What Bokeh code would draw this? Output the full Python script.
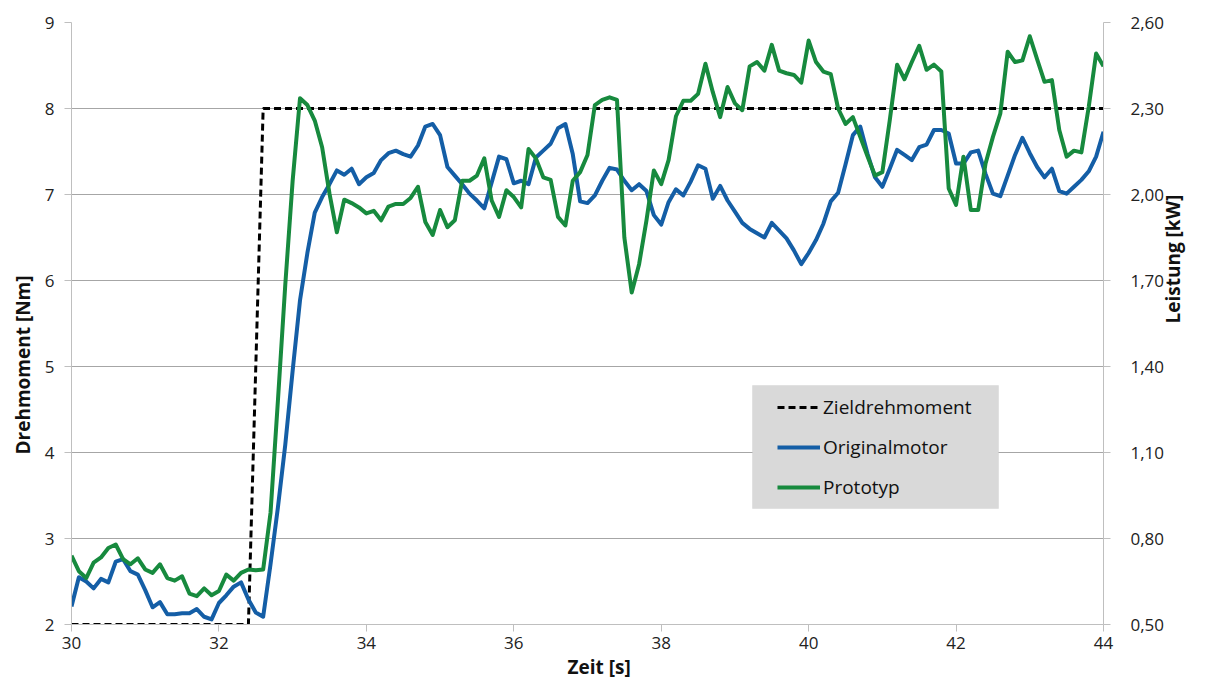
import math
from bokeh.plotting import figure
from bokeh.models import (Range1d, LinearAxis, FixedTicker, Legend, LegendItem,
                          CustomJSTickFormatter, ColumnDataSource, BoxAnnotation, Title)
from bokeh.embed import file_html
from bokeh.resources import INLINE

# ---------------- data ----------------
zeit = [30.0, 30.1, 30.2, 30.3, 30.4, 30.5, 30.6, 30.7, 30.8, 30.9,
        31.0, 31.1, 31.2, 31.3, 31.4, 31.5, 31.6, 31.7, 31.8, 31.9,
        32.0, 32.1, 32.2, 32.3, 32.4, 32.5, 32.6, 32.7, 32.8, 32.9,
        33.0, 33.1, 33.2, 33.3, 33.4, 33.5, 33.6, 33.7, 33.8, 33.9,
        34.0, 34.1, 34.2, 34.3, 34.4, 34.5, 34.6, 34.7, 34.8, 34.9,
        35.0, 35.1, 35.2, 35.3, 35.4, 35.5, 35.6, 35.7, 35.8, 35.9,
        36.0, 36.1, 36.2, 36.3, 36.4, 36.5, 36.6, 36.7, 36.8, 36.9,
        37.0, 37.1, 37.2, 37.3, 37.4, 37.5, 37.6, 37.7, 37.8, 37.9,
        38.0, 38.1, 38.2, 38.3, 38.4, 38.5, 38.6, 38.7, 38.8, 38.9,
        39.0, 39.1, 39.2, 39.3, 39.4, 39.5, 39.6, 39.7, 39.8, 39.9,
        40.0, 40.1, 40.2, 40.3, 40.4, 40.5, 40.6, 40.7, 40.8, 40.9,
        41.0, 41.1, 41.2, 41.3, 41.4, 41.5, 41.6, 41.7, 41.8, 41.9,
        42.0, 42.1, 42.2, 42.3, 42.4, 42.5, 42.6, 42.7, 42.8, 42.9,
        43.0, 43.1, 43.2, 43.3, 43.4, 43.5, 43.6, 43.7, 43.8, 43.9,
        44.0]

originalmotor = [2.21, 2.55, 2.50, 2.42, 2.53, 2.49, 2.73, 2.76, 2.62, 2.58,
                 2.40, 2.20, 2.26, 2.12, 2.12, 2.13, 2.13, 2.18, 2.09, 2.06,
                 2.25, 2.34, 2.44, 2.49, 2.29, 2.14, 2.09, 2.70, 3.36, 4.09,
                 4.95, 5.77, 6.32, 6.79, 6.97, 7.12, 7.28, 7.23, 7.30, 7.12,
                 7.20, 7.25, 7.40, 7.48, 7.51, 7.47, 7.44, 7.57, 7.79, 7.82,
                 7.69, 7.32, 7.22, 7.12, 7.01, 6.93, 6.84, 7.14, 7.44, 7.41,
                 7.13, 7.16, 7.12, 7.43, 7.51, 7.59, 7.77, 7.82, 7.47, 6.92,
                 6.90, 6.99, 7.16, 7.31, 7.29, 7.16, 7.05, 7.12, 7.04, 6.76,
                 6.65, 6.91, 7.06, 6.99, 7.15, 7.34, 7.30, 6.95, 7.10, 6.93,
                 6.80, 6.67, 6.60, 6.55, 6.50, 6.67, 6.58, 6.49, 6.35, 6.19,
                 6.32, 6.47, 6.66, 6.92, 7.02, 7.35, 7.69, 7.79, 7.47, 7.20,
                 7.09, 7.30, 7.52, 7.46, 7.40, 7.55, 7.58, 7.75, 7.75, 7.71,
                 7.36, 7.36, 7.49, 7.51, 7.24, 7.01, 6.98, 7.22, 7.46, 7.66,
                 7.48, 7.32, 7.20, 7.30, 7.04, 7.01, 7.09, 7.17, 7.27, 7.44,
                 7.73]

prototyp = [2.80, 2.62, 2.54, 2.72, 2.78, 2.89, 2.93, 2.76, 2.70, 2.77,
            2.64, 2.60, 2.70, 2.54, 2.51, 2.56, 2.36, 2.33, 2.42, 2.34,
            2.39, 2.58, 2.51, 2.60, 2.64, 2.63, 2.64, 3.30, 4.60, 5.95,
            7.16, 8.12, 8.04, 7.86, 7.55, 7.01, 6.56, 6.94, 6.90, 6.85,
            6.78, 6.81, 6.70, 6.86, 6.89, 6.89, 6.96, 7.09, 6.68, 6.53,
            6.82, 6.62, 6.70, 7.16, 7.16, 7.22, 7.42, 6.93, 6.74, 7.05,
            6.97, 6.85, 7.53, 7.42, 7.20, 7.17, 6.74, 6.64, 7.16, 7.26,
            7.46, 8.04, 8.10, 8.13, 8.10, 6.50, 5.86, 6.19, 6.70, 7.28,
            7.12, 7.40, 7.91, 8.09, 8.09, 8.17, 8.52, 8.19, 7.90, 8.25,
            8.06, 7.98, 8.49, 8.54, 8.44, 8.74, 8.44, 8.41, 8.39, 8.30,
            8.79, 8.54, 8.43, 8.40, 8.00, 7.82, 7.90, 7.67, 7.44, 7.22,
            7.26, 7.86, 8.51, 8.34, 8.54, 8.73, 8.45, 8.51, 8.43, 7.07,
            6.88, 7.44, 6.82, 6.82, 7.36, 7.67, 7.94, 8.66, 8.54, 8.56,
            8.84, 8.57, 8.31, 8.33, 7.75, 7.44, 7.51, 7.49, 8.02, 8.64,
            8.49]

ziel_zeit = [30.0, 32.4, 32.6, 44.0]
ziel_moment = [2.0, 2.0, 8.0, 8.0]

x_ticks = [30, 32, 34, 36, 38, 40, 42, 44]
y_ticks = [2, 3, 4, 5, 6, 7, 8, 9]
p_ticks = [0.5, 0.8, 1.1, 1.4, 1.7, 2.0, 2.3, 2.6]

series_names = ["Zieldrehmoment", "Originalmotor", "Prototyp"]
axis_titles = ["Zeit [s]", "Drehmoment [Nm]", "Leistung [kW]"]

# ---------------- styling ----------------
FONT = "Open Sans"
BLUE = "#145ea6"
GREEN = "#178a3e"
GRID = "#a6a6a6"
AXIS = "#bfbfbf"

p = figure(width=1202, height=683, x_range=Range1d(30, 44), y_range=Range1d(2, 9),
           output_backend="svg", toolbar_location=None,
           min_border_left=71, min_border_right=96,
           min_border_top=22, min_border_bottom=59)
p.extra_y_ranges = {"power": Range1d(0.5, 2.6)}

p.outline_line_color = None
p.background_fill_color = "white"
p.border_fill_color = "white"

p.xgrid.grid_line_color = None
p.ygrid.grid_line_color = GRID
p.ygrid.grid_line_width = 1

# legend box
legend_box = BoxAnnotation(left=681, right=927, bottom=116, top=239,
                           left_units="screen", right_units="screen",
                           bottom_units="screen", top_units="screen",
                           fill_color="#d9d9d9", fill_alpha=1.0,
                           line_color="#c8c8c8", line_width=1, level="overlay")

# lines
src = ColumnDataSource(dict(t=zeit, orig=originalmotor, proto=prototyp))
r_ziel = p.line(ziel_zeit, ziel_moment, line_color="black", line_width=3,
                line_dash="7 4")
r_orig = p.line("t", "orig", source=src, line_color=BLUE, line_width=4,
                line_join="round")
r_proto = p.line("t", "proto", source=src, line_color=GREEN, line_width=4,
                 line_join="round")

# axes
def style_axis(ax):
    ax.axis_line_color = AXIS
    ax.major_tick_line_color = AXIS
    ax.minor_tick_line_color = None
    ax.major_tick_in = 0
    ax.major_tick_out = 7
    ax.major_label_text_font = FONT
    ax.major_label_text_font_size = "17px"
    ax.major_label_text_color = "#222222"
    ax.axis_label_text_font = FONT
    ax.axis_label_text_font_style = "bold"
    ax.axis_label_text_font_size = "19px"
    ax.axis_label_text_color = "#111111"

xa = p.xaxis[0]
style_axis(xa)
xa.ticker = FixedTicker(ticks=x_ticks)
xa.major_label_standoff = 5

ya = p.yaxis[0]
style_axis(ya)
ya.ticker = FixedTicker(ticks=y_ticks)
ya.major_label_standoff = 10

ra = LinearAxis(y_range_name="power", ticker=FixedTicker(ticks=p_ticks),
                formatter=CustomJSTickFormatter(code="return tick.toFixed(2).replace('.', ',');"))
style_axis(ra)
ra.major_label_standoff = 20
ra.axis_label = axis_titles[2]
ra.axis_label_standoff = 6
try:
    ra.axis_label_orientation = math.pi / 2
except Exception:
    pass
p.add_layout(ra, "right")

# bottom and left titles, shifted like in the original
t_x = Title(text=axis_titles[0], align="left", offset=496, standoff=0,
            text_font=FONT, text_font_style="bold", text_font_size="19px",
            text_color="#111111")
p.add_layout(t_x, "below")
t_y = Title(text=axis_titles[1], align="left", offset=170, standoff=11,
            text_font=FONT, text_font_style="bold", text_font_size="19px",
            text_color="#111111")
p.add_layout(t_y, "left")

p.add_layout(legend_box)

# legend
legend = Legend(items=[LegendItem(label=series_names[0], renderers=[r_ziel]),
                       LegendItem(label=series_names[1], renderers=[r_orig]),
                       LegendItem(label=series_names[2], renderers=[r_proto])],
                location=(706, 124))
legend.background_fill_alpha = 0.0
legend.border_line_color = None
legend.label_text_font = FONT
legend.label_text_font_size = "19px"
legend.label_text_color = "#111111"
legend.glyph_width = 43
legend.glyph_height = 26
legend.label_height = 26
legend.label_standoff = 3
legend.spacing = 14
legend.padding = 0
legend.margin = 0
p.add_layout(legend, "center")

open("out.html", "w").write(file_html(p, INLINE))
